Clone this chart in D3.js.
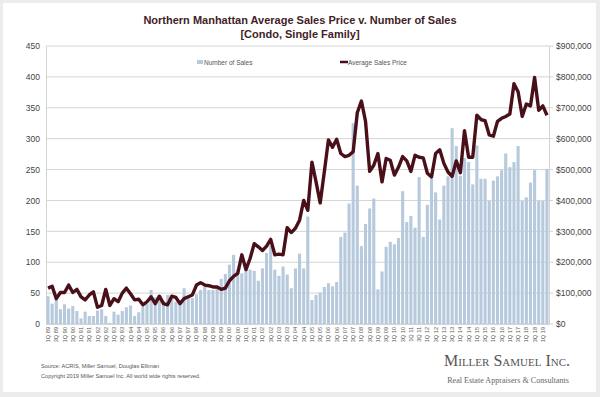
<!DOCTYPE html>
<html>
<head>
<meta charset="utf-8">
<script src="https://cdn.jsdelivr.net/npm/d3@7"></script>
<style>
  body { margin: 0; background: #ececec; }
  svg { display: block; }
</style>
</head>
<body>
<svg width="600" height="397"></svg>
<script>
// quarterly categories 1Q 89 .. 2Q 19
const years = d3.range(1989, 2020);
const quarters = [];
years.forEach(y => {
    for (let q = 1; q <= 4; q++) {
        if (y === 2019 && q > 2) break;
        quarters.push(`${q}Q ${String(y).slice(2)}`);
    }
});

const numberOfSales = [
    45, 33, 39, 24, 32, 25, 29, 21, 9, 20, 13, 13, 22, 24, 13, 2, 20, 15, 21, 27,
    30, 13, 19, 28, 33, 55, 43, 44, 37, 47, 42, 36, 38, 58, 45, 42, 48, 55, 60, 55,
    55, 60, 73, 81, 96, 112, 88, 82, 87, 88, 86, 70, 90, 115, 127, 88, 78, 93, 80, 58,
    90, 114, 90, 174, 39, 47, 51, 60, 66, 61, 68, 141, 148, 195, 325, 224, 126, 162, 187, 203,
    56, 85, 125, 133, 129, 139, 215, 165, 175, 156, 238, 141, 193, 235, 213, 169, 224, 239, 317, 288,
    240, 269, 262, 226, 289, 235, 235, 199, 232, 239, 249, 276, 254, 262, 288, 199, 205, 229, 249, 199,
    199, 251
];

const avgSalesPrice = [
    116000, 122000, 82000, 102000, 102000, 126000, 102000, 112000, 88000, 78000,
    94000, 104000, 54000, 60000, 112000, 60000, 82000, 72000, 100000, 116000,
    98000, 78000, 80000, 62000, 72000, 88000, 66000, 90000, 66000, 62000,
    90000, 86000, 66000, 82000, 88000, 94000, 126000, 134000, 126000, 124000,
    120000, 120000, 112000, 116000, 140000, 154000, 164000, 224000, 176000, 212000,
    260000, 250000, 238000, 252000, 274000, 224000, 226000, 224000, 312000, 296000,
    310000, 336000, 400000, 368000, 524000, 460000, 392000, 492000, 596000, 572000,
    598000, 552000, 542000, 546000, 558000, 684000, 722000, 656000, 494000, 514000,
    552000, 460000, 536000, 530000, 482000, 508000, 542000, 528000, 494000, 546000,
    540000, 538000, 488000, 476000, 552000, 564000, 520000, 492000, 478000, 528000,
    490000, 626000, 540000, 540000, 676000, 662000, 658000, 612000, 608000, 656000,
    666000, 672000, 680000, 778000, 752000, 672000, 712000, 706000, 798000, 692000,
    706000, 676000
];

const leftTicks = d3.range(0, 451, 50);
const rightTicks = d3.range(0, 900001, 100000);

const svg = d3.select('svg');

const plotLeft = 46;
const plotRight = 549;
const plotTop = 46;
const plotBottom = 324;

// white card
svg.append('rect')
    .attr('x', 3).attr('y', 3)
    .attr('width', 593).attr('height', 389)
    .attr('fill', '#fff');

const x = d3.scaleBand()
    .domain(quarters)
    .range([plotLeft, plotRight])
    .paddingInner(0.25)
    .paddingOuter(0.12);

const yL = d3.scaleLinear().domain([0, 450]).range([plotBottom, plotTop]);
const yR = d3.scaleLinear().domain([0, 900000]).range([plotBottom, plotTop]);

// gridlines
svg.append('g')
    .selectAll('line')
    .data(leftTicks)
    .join('line')
    .attr('x1', plotLeft).attr('x2', plotRight + 4)
    .attr('y1', d => yL(d)).attr('y2', d => yL(d))
    .attr('stroke', '#d4d4d4')
    .attr('stroke-width', 1);

// left axis
const yAxisL = d3.axisLeft(yL).tickValues(leftTicks).tickSize(0).tickPadding(6);
svg.append('g')
    .attr('transform', `translate(${plotLeft},0)`)
    .call(yAxisL)
    .call(g => g.select('.domain').attr('stroke', '#d4d4d4'))
    .selectAll('text')
    .attr('font-family', 'Liberation Sans, Arial, sans-serif')
    .attr('font-size', 8.5)
    .attr('fill', '#444');

// right axis
const yAxisR = d3.axisRight(yR).tickValues(rightTicks).tickSize(0).tickPadding(7)
    .tickFormat(d => '$' + d3.format(',')(d));
svg.append('g')
    .attr('transform', `translate(${plotRight},0)`)
    .call(yAxisR)
    .call(g => g.select('.domain').attr('stroke', '#d4d4d4'))
    .selectAll('text')
    .attr('font-family', 'Liberation Sans, Arial, sans-serif')
    .attr('font-size', 8.5)
    .attr('fill', '#444');

// bars
svg.append('g')
    .selectAll('rect')
    .data(numberOfSales)
    .join('rect')
    .attr('x', (d, i) => x(quarters[i]))
    .attr('width', x.bandwidth())
    .attr('y', d => yL(d))
    .attr('height', d => plotBottom - yL(d))
    .attr('fill', '#b7c9dc');

// price line
const line = d3.line()
    .x((d, i) => x(quarters[i]) + x.bandwidth() / 2)
    .y(d => yR(d));

svg.append('path')
    .attr('d', line(avgSalesPrice))
    .attr('fill', 'none')
    .attr('stroke', '#4a1019')
    .attr('stroke-width', 3.4)
    .attr('stroke-linejoin', 'round');

// x axis
svg.append('line')
    .attr('x1', plotLeft).attr('x2', plotRight)
    .attr('y1', plotBottom + 0.5).attr('y2', plotBottom + 0.5)
    .attr('stroke', '#d4d4d4');

svg.append('g')
    .selectAll('text')
    .data(quarters.filter((q, i) => i % 2 === 0))
    .join('text')
    .attr('transform', d => `translate(${x(d) + x.bandwidth() / 2 + 2},${plotBottom + 3}) rotate(-90)`)
    .attr('text-anchor', 'end')
    .attr('font-family', 'Liberation Sans, Arial, sans-serif')
    .attr('font-size', 5.6)
    .attr('fill', '#555')
    .text(d => d);

// title
const title = svg.append('text')
    .attr('text-anchor', 'middle')
    .attr('font-family', 'Liberation Sans, Arial, sans-serif')
    .attr('font-weight', 'bold')
    .attr('font-size', 11)
    .attr('fill', '#3f2327');
title.append('tspan').attr('x', 300).attr('y', 24)
    .text('Northern Manhattan Average Sales Price v. Number of Sales');
title.append('tspan').attr('x', 300).attr('y', 38)
    .text('[Condo, Single Family]');

// legend
svg.append('rect')
    .attr('x', 197).attr('y', 60).attr('width', 6).attr('height', 4)
    .attr('fill', '#b7c9dc');
svg.append('text')
    .attr('x', 204).attr('y', 64.5)
    .attr('font-family', 'Liberation Sans, Arial, sans-serif')
    .attr('font-size', 6.5).attr('fill', '#555')
    .text('Number of Sales');
svg.append('line')
    .attr('x1', 340).attr('x2', 348).attr('y1', 62).attr('y2', 62)
    .attr('stroke', '#4a1019').attr('stroke-width', 2.5);
svg.append('text')
    .attr('x', 348).attr('y', 64.5)
    .attr('font-family', 'Liberation Sans, Arial, sans-serif')
    .attr('font-size', 6.5).attr('fill', '#555')
    .text('Average Sales Price');

// footer
svg.append('text')
    .attr('x', 41).attr('y', 368)
    .attr('font-family', 'Liberation Sans, Arial, sans-serif')
    .attr('font-size', 5.6).attr('fill', '#555')
    .text('Source: ACRIS, Miller Samuel, Douglas Elliman');
svg.append('text')
    .attr('x', 41).attr('y', 378)
    .attr('font-family', 'Liberation Sans, Arial, sans-serif')
    .attr('font-size', 5.6).attr('fill', '#555')
    .text('Copyright 2019 Miller Samuel Inc.  All world wide rights reserved.');

svg.append('text')
    .attr('x', 570).attr('y', 366)
    .attr('text-anchor', 'end')
    .attr('font-family', 'Liberation Serif, Times New Roman, serif')
    .attr('font-size', 16).attr('fill', '#555')
    .style('font-variant', 'small-caps')
    .text('Miller Samuel Inc.');
svg.append('text')
    .attr('x', 569).attr('y', 383)
    .attr('text-anchor', 'end')
    .attr('font-family', 'Liberation Serif, Times New Roman, serif')
    .attr('font-size', 8.1).attr('fill', '#666')
    .text('Real Estate Appraisers & Consultants');
</script>
</body>
</html>
